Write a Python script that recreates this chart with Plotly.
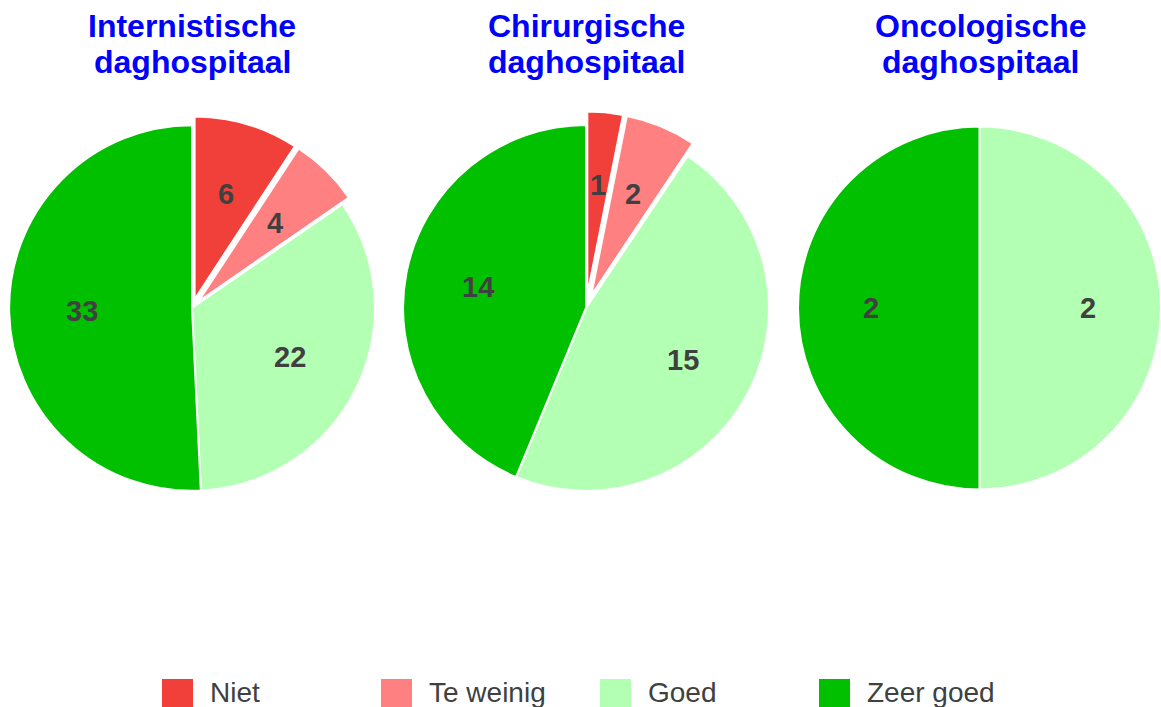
import math
import plotly.graph_objects as go

# ---- data ----
categories = ["Niet", "Te weinig", "Goed", "Zeer goed"]
colors = ["#F1403A", "#FF8080", "#B3FFB3", "#00C000"]
titles = [["Internistische", "daghospitaal"],
          ["Chirurgische", "daghospitaal"],
          ["Oncologische", "daghospitaal"]]
internistisch = [6, 4, 22, 33]
chirurgisch = [1, 2, 15, 14]
oncologisch = [0, 0, 2, 2]
series = [internistisch, chirurgisch, oncologisch]

# ---- layout constants (pixels) ----
W, H = 1161, 707
pulls = [0.05, 0.074, 0.0]          # pull of the first two slices per pie
pulled = ("Niet", "Te weinig")
centers = [192, 586, 979.5]
halfw = [192, 196.5, 181.5]
title_x = [192, 586, 981]
cy = 308
halfh = 250
label_frac = 0.6                     # radial position of slice labels
FONT = "Liberation Sans, Arial, sans-serif"

fig = go.Figure()
annotations = []
for k, vals in enumerate(series):
    labs = [c for c, v in zip(categories, vals) if v > 0]
    cols = [col for col, v in zip(colors, vals) if v > 0]
    vv = [v for v in vals if v > 0]
    pl = [pulls[k] if c in pulled else 0 for c in labs]
    cx = centers[k]
    fig.add_trace(go.Pie(
        labels=labs, values=vv, sort=False, direction="clockwise", rotation=0,
        pull=pl,
        marker=dict(colors=cols, line=dict(color="white", width=2)),
        textinfo="none",
        domain=dict(x=[(cx - halfw[k]) / W, min(1, (cx + halfw[k]) / W)],
                    y=[1 - (cy + halfh) / H, 1 - (cy - halfh) / H]),
        showlegend=False, hoverinfo="label+value+percent",
    ))
    # slice value labels at a fixed fraction of the radius (derived from values)
    r = halfw[k] / (1 + max(pl))
    total = sum(vv)
    cum = 0
    for v, p in zip(vv, pl):
        mid = math.radians((cum + v / 2) / total * 360)
        cum += v
        d = r * (label_frac + p)
        annotations.append(dict(
            text=f"<b>{v}</b>", x=(cx + d * math.sin(mid)) / W,
            y=1 - (cy - d * math.cos(mid)) / H, xref="paper", yref="paper",
            xanchor="center", yanchor="middle", showarrow=False,
            font=dict(family=FONT, size=29, color="#404040"),
        ))

for k, t in enumerate(titles):
    for j, line in enumerate(t):
        annotations.append(dict(
            text=f"<b>{line}</b>", x=title_x[k] / W,
            y=1 - (26 + 36 * j) / H, xref="paper", yref="paper",
            xanchor="center", yanchor="middle", showarrow=False,
            font=dict(family=FONT, size=32, color="#0000FF"),
        ))

# legend built from categories/colours
shapes = []
leg_x0, leg_step, sw = 162, 219, 31
for i, (c, col) in enumerate(zip(categories, colors)):
    x0 = leg_x0 + i * leg_step
    shapes.append(dict(type="rect", xref="paper", yref="paper",
                       x0=x0 / W, x1=(x0 + sw) / W, y0=1 - 710 / H, y1=1 - 679 / H,
                       fillcolor=col, line=dict(width=0)))
    annotations.append(dict(
        text=c, x=(x0 + 46) / W, y=1 - 692 / H, xref="paper", yref="paper",
        xanchor="left", yanchor="middle", showarrow=False,
        font=dict(family=FONT, size=28, color="#404040"),
    ))

fig.update_layout(
    width=W, height=H, margin=dict(l=0, r=0, t=0, b=0),
    paper_bgcolor="white", plot_bgcolor="white",
    annotations=annotations, shapes=shapes, showlegend=False,
)
fig.write_html("out.html", config={"displayModeBar": False},
               post_script="document.body.style.margin='0';document.body.style.overflow='hidden';")
